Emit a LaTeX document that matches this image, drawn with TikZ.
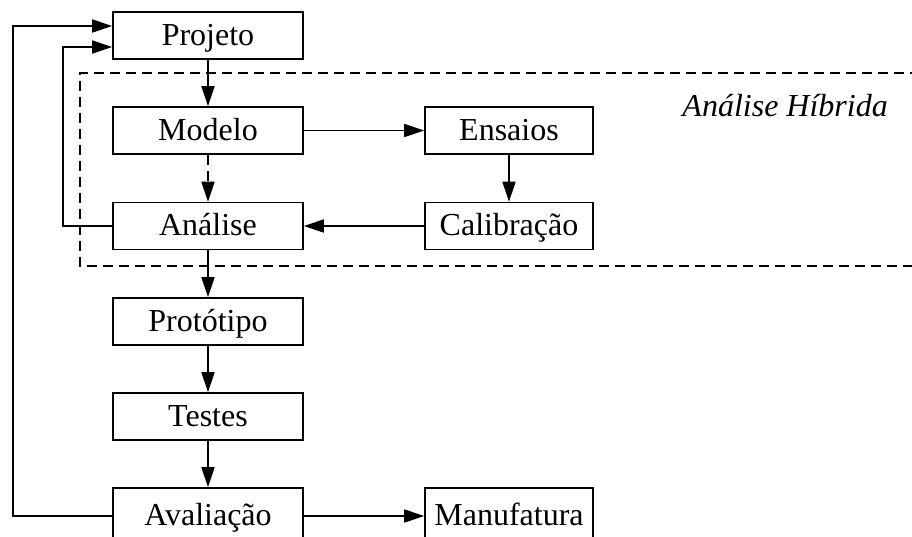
\documentclass[tikz,border=0pt]{standalone}
\usepackage{fontspec}
\setmainfont{Liberation Serif}
\usetikzlibrary{arrows.meta}
\begin{document}
\begin{tikzpicture}[x=1pt,y=1pt,
  box/.style={draw,line width=1.6pt,rectangle,minimum height=47pt,inner sep=0pt,
    text height=24pt,text depth=5pt,font=\fontsize{32}{36}\selectfont},
  lbox/.style={box,minimum width=190pt},
  rbox/.style={box,minimum width=168pt},
  conn/.style={line width=1.6pt,-{Triangle[length=20pt,width=13pt]}},
  region/.style={line width=1.6pt,dash pattern=on 10pt off 6pt}]
\useasboundingbox (0,0) rectangle (912,-536);
\draw[region] (920,-73) -- (80,-73) -- (80,-266) -- (920,-266);
\node[font=\itshape\fontsize{32}{36}\selectfont,anchor=base east,inner sep=0pt] (hyb) at (888,-116) {Análise Híbrida};
\node[lbox] (proj) at (208,-35.5) {Projeto};
\node[lbox] (mod) at (208,-130.5) {Modelo};
\node[lbox] (ana) at (208,-226) {Análise};
\node[lbox] (prot) at (208,-321.5) {Protótipo};
\node[lbox] (test) at (208,-416.5) {Testes};
\node[lbox,minimum height=56pt] (aval) at (208,-516) {Avaliação};
\node[rbox] (ens) at (509,-130.5) {Ensaios};
\node[rbox] (cal) at (509,-226) {Calibração};
\node[rbox,minimum height=56pt] (manu) at (509,-516) {Manufatura};
\draw[conn] (proj) -- (mod);
\draw[conn,dash pattern=on 10pt off 6pt] (mod) -- (ana);
\draw[conn] (ana) -- (prot);
\draw[conn] (prot) -- (test);
\draw[conn] (test) -- (aval);
\draw[conn] (mod) -- (ens);
\draw[conn] (ens) -- (cal);
\draw[conn] (cal) -- (ana);
\draw[conn] (aval) -- (manu);
\coordinate (inA) at ([yshift=-11.5pt]proj.west);
\coordinate (inB) at ([yshift=9.5pt]proj.west);
\draw[conn] (ana.west) -- (63,-226) |- (inA);
\draw[conn] (aval.west) -- (13,-516) |- (inB);
\end{tikzpicture}
\end{document}
